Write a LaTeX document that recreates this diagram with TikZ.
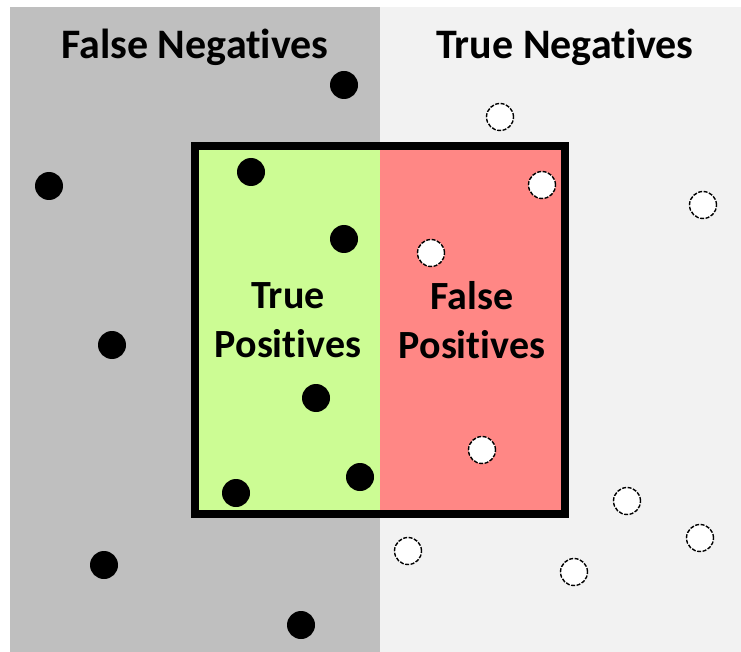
\documentclass[tikz,border=0pt]{standalone}
\usepackage{fontspec}
\setmainfont[Ligatures=NoCommon]{Carlito}
\definecolor{leftgray}{HTML}{BFBFBF}
\definecolor{rightgray}{HTML}{F2F2F2}
\definecolor{tpgreen}{HTML}{CCFC94}
\definecolor{fpred}{HTML}{FF8785}
\tikzset{
  posdot/.style={circle,fill=black,minimum size=28pt,inner sep=0pt},
  negdot/.style={circle,fill=white,draw=black,dash pattern=on 4pt off 1.5pt,line width=1.4pt,minimum size=27pt,inner sep=0pt},
  titlelbl/.style={font=\bfseries\fontsize{42}{48}\selectfont},
  boxlbl/.style={font=\bfseries\fontsize{40}{49}\selectfont,align=center}
}
\begin{document}
\begin{tikzpicture}[x=1pt,y=-1pt]
\useasboundingbox (0,0) rectangle (741,652);
\fill[white] (0,0) rectangle (741,652);
\fill[leftgray] (10,7) rectangle (380,652);
\fill[rightgray] (380,7) rectangle (741,652);
\fill[tpgreen] (195,146) rectangle (380,514);
\fill[fpred] (380,146) rectangle (565,514);
\node[titlelbl] (fn) at (195,47) {False Negatives};
\node[titlelbl] (tn) at (565,47) {True Negatives};
\node[boxlbl] (tp) at (288,320) {True\\Positives};
\node[boxlbl] (fp) at (472,320) {False\\Positives};
% black dots
\node[posdot] (b1) at (344,85) {};
\node[posdot] (b2) at (49,186) {};
\node[posdot] (b3) at (251,172) {};
\node[posdot] (b4) at (344,239) {};
\node[posdot] (b5) at (112,345) {};
\node[posdot] (b6) at (316,398) {};
\node[posdot] (b7) at (360,477) {};
\node[posdot] (b8) at (236,493) {};
\node[posdot] (b9) at (104,565) {};
\node[posdot] (b10) at (301,625) {};
% white dots
\node[negdot] (w1) at (500,117) {};
\node[negdot] (w2) at (542,185) {};
\node[negdot] (w3) at (703,205) {};
\node[negdot] (w4) at (431,253) {};
\node[negdot] (w5) at (482,450) {};
\node[negdot] (w6) at (627,501) {};
\node[negdot] (w7) at (700,538) {};
\node[negdot] (w8) at (408,551) {};
\node[negdot] (w9) at (574,572) {};
\draw[line width=8pt] (195,146) rectangle (565,514);
\end{tikzpicture}
\end{document}
